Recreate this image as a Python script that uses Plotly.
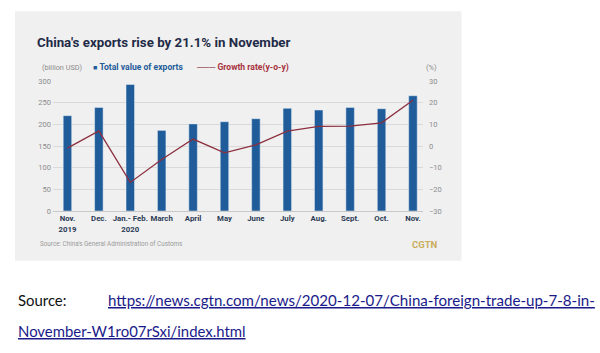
import plotly.graph_objects as go

months = ["Nov.<br>2019", "Dec.", "Jan.- Feb.<br>2020", "March", "April", "May",
          "June", "July", "Aug.", "Sept.", "Oct.", "Nov."]
exports = [220, 239, 292, 186, 201, 206, 213, 237, 233, 239, 236, 266]
growth = [-1.0, 7.0, -16.8, -6.2, 3.2, -3.2, 0.5, 6.9, 9.1, 9.2, 10.7, 21.1]
left_ticks = [0, 50, 100, 150, 200, 250, 300]
right_ticks = [-30, -20, -10, 0, 10, 20, 30]

BAR = "#1f5c99"
LINE = "#8c2f3f"
NAVY = "#1f2b47"
GRAYTXT = "#8c8c8c"
W, H = 600, 353
PL, PR, PT, PB = 53, 423, 80.7, 210.7

fig = go.Figure()
fig.add_trace(go.Bar(x=months, y=exports, marker_color=BAR, width=0.27,
                     name="Total value of exports", showlegend=False))
fig.add_trace(go.Scatter(x=months, y=growth, yaxis="y2", mode="lines",
                         line=dict(color=LINE, width=1.3),
                         name="Growth rate(y-o-y)", showlegend=False))

def px_x(p):
    return (p - PL) / (PR - PL)

def px_y(p):
    return (PB - p) / (PB - PT)

fig.add_shape(type="rect", xref="paper", yref="paper",
              x0=px_x(15), x1=px_x(461.5), y0=px_y(11), y1=px_y(260.5),
              fillcolor="#f0f0f0", line=dict(width=0), layer="below")

ann = []
ann.append(dict(text="<b>China's exports rise by 21.1% in November</b>",
                x=px_x(34.5), y=px_y(42), xanchor="left", yanchor="middle",
                font=dict(family="Roboto", size=13.3, color=NAVY)))
ann.append(dict(text="(billion USD)", x=px_x(39.5), y=px_y(67), xanchor="left",
                yanchor="middle", font=dict(family="Roboto", size=7.3, color=GRAYTXT)))
ann.append(dict(text=f"<span style='color:{BAR};font-size:7px'>■</span> <b>Total value of exports</b>",
                x=px_x(91), y=px_y(67), xanchor="left", yanchor="middle",
                font=dict(family="Roboto", size=8.6, color=BAR)))
ann.append(dict(text=f"<span style='color:{LINE}'>───</span> <b>Growth rate(y-o-y)</b>",
                x=px_x(194), y=px_y(67), xanchor="left", yanchor="middle",
                font=dict(family="Roboto", size=8.6, color="#a8323f")))
ann.append(dict(text="(%)", x=px_x(439), y=px_y(67), xanchor="right",
                yanchor="middle", font=dict(family="Roboto", size=7.5, color=GRAYTXT)))
ann.append(dict(text="Source: China's General Administration of Customs",
                x=px_x(38), y=px_y(244), xanchor="left", yanchor="middle",
                font=dict(family="Roboto", size=6.3, color="#9a9a9a")))
ann.append(dict(text="<b>CGTN</b>", x=px_x(439.5), y=px_y(244), xanchor="right",
                yanchor="middle", font=dict(family="Roboto", size=9.5, color="#c9ac5c")))
ann.append(dict(text="Source:", x=px_x(16), y=px_y(300), xanchor="left",
                yanchor="middle", font=dict(family="Lato", size=14.9, color="#111111")))
ann.append(dict(text="<u>https://news.cgtn.com/news/2020-12-07/China-foreign-trade-up-7-8-in-</u>",
                x=px_x(106), y=px_y(300), xanchor="left", yanchor="middle",
                font=dict(family="Lato", size=15.1, color="#1a1a8a")))
ann.append(dict(text="<u>November-W1ro07rSxi/index.html</u>",
                x=px_x(16), y=px_y(331), xanchor="left", yanchor="middle",
                font=dict(family="Lato", size=14.9, color="#1a1a8a")))
for a in ann:
    a.update(xref="paper", yref="paper", showarrow=False)

fig.update_layout(
    width=W, height=H,
    margin=dict(l=PL, r=W - PR, t=PT, b=H - PB, pad=0),
    paper_bgcolor="white", plot_bgcolor="rgba(0,0,0,0)",
    annotations=ann,
    xaxis=dict(type="category", range=[-0.46, 11.32], showgrid=False,
               showline=True, linecolor="#c8c8c8", linewidth=1, ticks="",
               tickangle=0,
               tickfont=dict(family="Roboto", size=7.8, color="#2b3a55", weight="bold"),
               fixedrange=True),
    yaxis=dict(range=[0, 300], tickvals=left_ticks, showgrid=True,
               gridcolor="#d9d9d9", gridwidth=0.8, zeroline=False,
               tickfont=dict(family="Roboto", size=7.5, color=GRAYTXT),
               ticklabelstandoff=1),
    yaxis2=dict(range=[-30, 30], tickvals=right_ticks, overlaying="y", side="right",
                showgrid=False, zeroline=False,
                tickfont=dict(family="Roboto", size=7.5, color=GRAYTXT),
                ticklabelstandoff=5),
)

fig.write_html("out.html")
